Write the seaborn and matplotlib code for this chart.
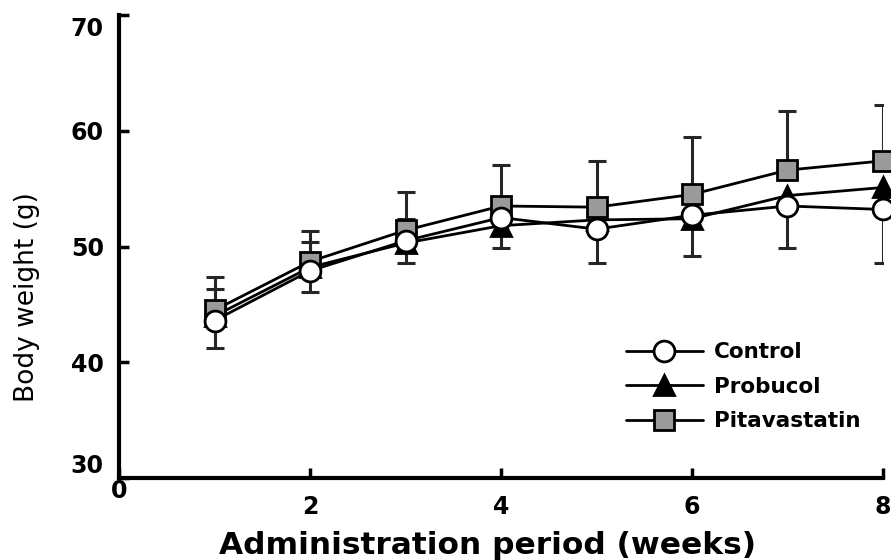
import numpy as np
import pandas as pd
import matplotlib
matplotlib.use("Agg")
import matplotlib.pyplot as plt
import matplotlib.transforms as mtransforms
import seaborn as sns

# ---- data ----
weeks = [1, 2, 3, 4, 5, 6, 7, 8]
control = [43.6, 47.9, 50.5, 52.5, 51.5, 52.7, 53.5, 53.2]
probucol = [44.0, 48.2, 50.3, 51.8, 52.3, 52.4, 54.4, 55.1]
pitavastatin = [44.5, 48.7, 51.4, 53.5, 53.4, 54.5, 56.6, 57.4]
control_sd = [2.4, 1.8, 1.9, 2.6, 2.9, 3.5, 3.6, 4.6]          # shown downward
pitavastatin_sd = [2.9, 2.6, 3.3, 3.5, 4.0, 5.0, 5.1, 4.8]     # shown upward
probucol_weeks = [1, 2, 3]                                     # visible caps only
probucol_sd = [2.3, 2.2, 2.1]                                  # shown upward
x_ticks = [0, 2, 4, 6, 8]
y_ticks = [30, 40, 50, 60, 70]
series_names = ["Control", "Probucol", "Pitavastatin"]

sns.set_style("ticks")
plt.rcParams["font.family"] = ["DejaVu Sans"]
plt.rcParams["text.color"] = "black"
plt.rcParams["axes.labelcolor"] = "black"
plt.rcParams["xtick.color"] = "black"
plt.rcParams["ytick.color"] = "black"

fig = plt.figure(figsize=(8.91, 5.60), dpi=100)
ax = fig.add_axes([0.1336, 0.1464, 0.8574, 0.8268])

err_kw = dict(fmt="none", ecolor="#262626", elinewidth=2.2, capsize=6.5,
              capthick=2.2, zorder=1)
ax.errorbar(weeks, pitavastatin, yerr=[np.zeros(len(weeks)), pitavastatin_sd], **err_kw)
ax.errorbar(weeks, control, yerr=[control_sd, np.zeros(len(weeks))], **err_kw)
prob_sub = [probucol[weeks.index(w)] for w in probucol_weeks]
ax.errorbar(probucol_weeks, prob_sub, yerr=[np.zeros(len(probucol_weeks)), probucol_sd], **err_kw)

df = pd.DataFrame({"week": weeks, "Control": control, "Probucol": probucol,
                   "Pitavastatin": pitavastatin})

styles = {
    "Probucol": dict(marker="^", markerfacecolor="black", markersize=14, zorder=3),
    "Pitavastatin": dict(marker="s", markerfacecolor="#9a9a9a", markersize=14, zorder=4),
    "Control": dict(marker="o", markerfacecolor="white", markersize=15, zorder=5),
}
for name in ["Probucol", "Pitavastatin", "Control"]:
    st = styles[name]
    sns.lineplot(data=df, x="week", y=name, ax=ax, color="black", linewidth=2.0,
                 marker=st["marker"], markerfacecolor=st["markerfacecolor"],
                 markeredgecolor="black", markeredgewidth=2,
                 markersize=st["markersize"], zorder=st["zorder"],
                 label=name, clip_on=False)

ax.set_xlim(0, 8)
ax.set_ylim(30, 70)
ax.set_xticks(x_ticks)
ax.set_yticks(y_ticks)
ax.set_xticklabels([str(t) for t in x_ticks], fontsize=17, fontweight="bold", color="black")
ax.set_yticklabels([str(t) for t in y_ticks], fontsize=17, fontweight="bold", color="black")
ax.tick_params(direction="in", length=7, width=2.5, color="black")
ax.tick_params(axis="x", pad=12)
ax.tick_params(axis="y", pad=11)

# corner labels nudged inward as in the reference
def nudge(label, dy_px):
    label.set_transform(label.get_transform() +
                        mtransforms.ScaledTranslation(0, dy_px / 100, fig.dpi_scale_trans))

nudge(ax.get_xticklabels()[0], 16)
nudge(ax.get_yticklabels()[0], 15)
nudge(ax.get_yticklabels()[-1], -11)

for side in ["top", "right"]:
    ax.spines[side].set_visible(False)
for side in ["left", "bottom"]:
    ax.spines[side].set_linewidth(3)
    ax.spines[side].set_color("black")

ax.set_xlabel("Administration period (weeks)", fontsize=22.5, fontweight="bold", color="black")
ax.xaxis.set_label_coords(0.482, -0.145)
ax.xaxis.label.set_verticalalignment("center")
ax.set_ylabel("Body weight (g)", fontsize=19, color="black")
ax.yaxis.set_label_coords(-0.120, 0.391)
ax.yaxis.label.set_verticalalignment("center")

handles, labels = ax.get_legend_handles_labels()
order = [labels.index(n) for n in series_names]
leg = ax.legend([handles[i] for i in order], [labels[i] for i in order],
                loc="upper left", bbox_to_anchor=(0.652, 0.312), borderaxespad=0,
                frameon=False, handlelength=3.6, handletextpad=0.5,
                labelspacing=0.68, prop=dict(size=15.5, weight="bold"))
for t in leg.get_texts():
    t.set_color("black")

fig.savefig("out.png", dpi=100)
